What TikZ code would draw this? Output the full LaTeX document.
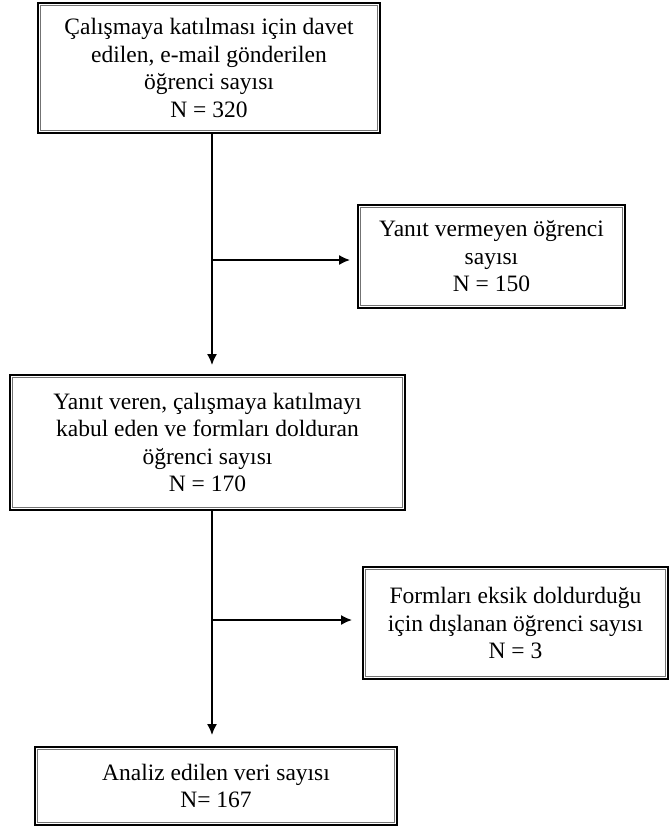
\documentclass[tikz,border=0pt]{standalone}
\usepackage{fontspec}
\setmainfont{Liberation Serif}
\usetikzlibrary{arrows.meta}
\begin{document}
\begin{tikzpicture}[x=1pt,y=-1pt,
  box/.style={draw=black, line width=2.6pt, rectangle, align=center, inner sep=0pt, outer sep=0pt,
    font=\fontsize{23.5}{27.5}\selectfont},
  innerline/.style={line width=0.8pt, draw=black!55},
  arr/.style={line width=1.5pt, -{Latex[length=11pt,width=10pt]}}]
\useasboundingbox (0,0) rectangle (670,831);
\node[box, minimum width=342pt, minimum height=130pt] (b1) at (209,68)
  {Çalışmaya katılması için davet\\edilen, e-mail gönderilen\\öğrenci sayısı\\N = 320};
\node[box, minimum width=267pt, minimum height=103pt] (b2) at (491.5,256.5)
  {Yanıt vermeyen öğrenci\\sayısı\\N = 150};
\node[box, minimum width=395pt, minimum height=135pt] (b3) at (207.5,442.5)
  {Yanıt veren, çalışmaya katılmayı\\kabul eden ve formları dolduran\\öğrenci sayısı\\N = 170};
\node[box, minimum width=305pt, minimum height=112pt] (b4) at (515.5,623)
  {Formları eksik doldurduğu\\için dışlanan öğrenci sayısı\\N = 3};
\node[box, minimum width=362pt, minimum height=78pt] (b5) at (216,786)
  {Analiz edilen veri sayısı\\N= 167};
\foreach \n in {b1,b2,b3,b4,b5}
  \draw[innerline] ([shift={(2.5pt,-2.5pt)}]\n.north west) rectangle ([shift={(-2.5pt,2.5pt)}]\n.south east);
\coordinate (xa) at (212,0);
\coordinate (j1) at (212,260);
\coordinate (j2) at (212,620);
\draw[arr, shorten >=10pt] (b1.south -| xa) -- (b3.north -| xa);
\draw[arr, shorten >=8pt] (j1) -- (b2.west |- j1);
\draw[arr, shorten >=12pt] (b3.south -| xa) -- (b5.north -| xa);
\draw[arr, shorten >=11pt] (j2) -- (b4.west |- j2);
\end{tikzpicture}
\end{document}
